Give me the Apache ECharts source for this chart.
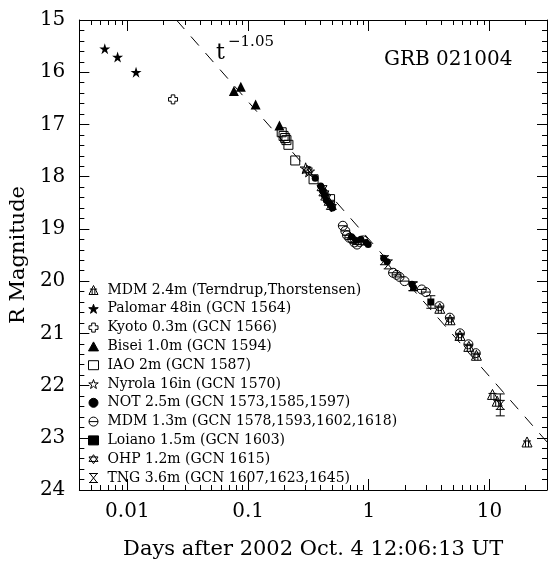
<!DOCTYPE html>
<html lang="en">
<head>
  <meta charset="UTF-8">
  <title>GRB 021004</title>
  <style>
    html, body { margin: 0; padding: 0; background: #fff; }
    #main { width: 550px; height: 565px; }
  </style>
</head>
<body>
  <div id="main"></div>
  <script src="https://cdn.jsdelivr.net/npm/echarts@6/dist/echarts.min.js"></script>
  <script>
    // [days after burst, R magnitude]
    var mdm24 = [[3.88, 20.52], [4.72, 20.74], [5.7, 21.04], [6.75, 21.25], [7.8, 21.42], [10.6, 22.17], [11.6, 22.3], [20.5, 23.08]];
    var palomar = [[0.0065, 15.55], [0.0083, 15.71], [0.0118, 16.0]];
    var kyoto = [[0.0239, 16.52]];
    var bisei = [[0.0763, 16.36], [0.0871, 16.28], [0.1156, 16.62], [0.182, 17.02]];
    var iao = [[0.19, 17.15], [0.197, 17.22], [0.203, 17.26], [0.208, 17.3], [0.216, 17.39], [0.246, 17.69], [0.349, 18.05], [0.478, 18.43]];
    var nyrola = [[0.30, 17.84], [0.32, 17.9]];
    var notData = [[0.36, 18.03], [0.40, 18.18], [0.415, 18.27], [0.43, 18.36], [0.445, 18.45], [0.48, 18.52], [0.5, 18.6],
      [0.72, 19.15], [0.78, 19.22], [0.86, 19.2], [0.95, 19.26], [0.99, 19.3], [1.33, 19.56], [1.42, 19.63], [2.28, 20.06], [2.35, 20.12]];
    var mdm13 = [[0.61, 18.94], [0.64, 19.04], [0.66, 19.12], [0.69, 19.17], [0.73, 19.2], [0.76, 19.26], [0.8, 19.3], [0.84, 19.25], [0.9, 19.22],
      [1.59, 19.84], [1.7, 19.88], [1.8, 19.92], [1.98, 20.0], [2.75, 20.16], [2.97, 20.21], [3.85, 20.48], [4.7, 20.7], [5.7, 21.0], [6.7, 21.21], [7.7, 21.38]];
    var loiano = [[3.27, 20.40]];
    var ohp = [[0.31, 17.88], [0.41, 18.22], [0.425, 18.32], [0.44, 18.4], [0.47, 18.5], [0.49, 18.58]];
    var tng = [[1.35, 19.6], [1.45, 19.68], [2.33, 20.1], [12.3, 22.37]];
    // [days, mag, error]
    var errBars = [[3.27, 20.40, 0.12], [2.33, 20.1, 0.08], [12.3, 22.37, 0.21]];
    // power-law t^-1.05 guide, end points
    var fitLine = [[0.0255, 15.0], [30, 23.08]];

    var xMinDays = 0.004, xMaxDays = 30;
    var majorDays = [0.01, 0.1, 1, 10];
    var minorDays = [0.005, 0.006, 0.007, 0.008, 0.009, 0.02, 0.03, 0.04, 0.05, 0.06, 0.07, 0.08, 0.09,
      0.2, 0.3, 0.4, 0.5, 0.6, 0.7, 0.8, 0.9, 2, 3, 4, 5, 6, 7, 8, 9, 20];

    var FONT = 'DejaVu Serif';
    var lg = function (v) { return Math.log10(v); };
    var toXY = function (arr) { return arr.map(function (p) { return [lg(p[0]), p[1]]; }); };

    var STAR = 'path://M5,0 L6.2,3.6 L10,3.6 L6.9,5.8 L8.1,9.5 L5,7.2 L1.9,9.5 L3.1,5.8 L0,3.6 L3.8,3.6 Z';
    var CROSS = 'path://M3,0 L7,0 L7,3 L10,3 L10,7 L7,7 L7,10 L3,10 L3,7 L0,7 L0,3 L3,3 Z';
    var BARCIRC = 'path://M0,5 A5,5 0 1,1 10,5 A5,5 0 1,1 0,5 Z M0,5 L10,5';
    var HEXSTAR = 'path://M5,0 L10,7.5 L0,7.5 Z M5,10 L0,2.5 L10,2.5 Z';
    var HOURGLASS = 'path://M0,0 L10,0 M0,10 L10,10 M1,0 L9,10 M9,0 L1,10';
    var TRIBAR = 'path://M5,0 L10,10 L0,10 Z M1,4 L9,4 M3.5,4 L3.5,10 M6.5,4 L6.5,10';

    function pts(name, data, symbol, size, filled) {
      return {
        name: name,
        type: 'scatter',
        data: toXY(data),
        symbol: symbol,
        symbolSize: size,
        silent: true,
        z: 3,
        itemStyle: {
          color: filled ? '#000' : 'rgba(0,0,0,0)',
          borderColor: '#000',
          borderWidth: filled ? 0 : 1,
          opacity: 1
        }
      };
    }

    function renderErr(params, api) {
      var x = api.value(0), y = api.value(1), e = api.value(2);
      var a = api.coord([x, y - e]);
      var b = api.coord([x, y + e]);
      var w = 4.5;
      var st = { stroke: '#000', lineWidth: 1 };
      return {
        type: 'group',
        children: [
          { type: 'line', shape: { x1: a[0], y1: a[1], x2: b[0], y2: b[1] }, style: st },
          { type: 'line', shape: { x1: a[0] - w, y1: a[1], x2: a[0] + w, y2: a[1] }, style: st },
          { type: 'line', shape: { x1: b[0] - w, y1: b[1], x2: b[0] + w, y2: b[1] }, style: st }
        ]
      };
    }

    var names = ['MDM 2.4m (Terndrup,Thorstensen)', 'Palomar 48in (GCN 1564)', 'Kyoto 0.3m (GCN 1566)', 'Bisei 1.0m (GCN 1594)',
      'IAO 2m (GCN 1587)', 'Nyrola 16in (GCN 1570)', 'NOT 2.5m (GCN 1573,1585,1597)', 'MDM 1.3m (GCN 1578,1593,1602,1618)',
      'Loiano 1.5m (GCN 1603)', 'OHP 1.2m (GCN 1615)', 'TNG 3.6m (GCN 1607,1623,1645)'];

    var xBase = function (pos, ticks, len, line) {
      return {
        type: 'value', position: pos,
        min: lg(xMinDays), max: lg(xMaxDays),
        splitLine: { show: false },
        axisLine: { show: line, onZero: false, lineStyle: { color: '#000', width: 1 } },
        axisTick: { show: true, inside: true, length: len, customValues: ticks.map(lg), lineStyle: { color: '#000', width: 1 } },
        axisLabel: { show: false }
      };
    };
    var yBase = function (pos, labels) {
      return {
        type: 'value', position: pos, inverse: true,
        min: 15, max: 24, interval: 1,
        splitLine: { show: false },
        axisLine: { show: true, onZero: false, lineStyle: { color: '#000', width: 1 } },
        axisTick: { show: true, inside: true, length: 10, lineStyle: { color: '#000', width: 1 } },
        minorTick: { show: true, splitNumber: 5, length: 5, lineStyle: { color: '#000', width: 1 } },
        axisLabel: { show: labels, color: '#000', fontFamily: FONT, fontSize: 20, margin: 14 }
      };
    };

    var x0 = xBase('bottom', majorDays, 11, true);
    x0.axisLabel = {
      show: true, color: '#000', fontFamily: FONT, fontSize: 20, margin: 12,
      customValues: majorDays.map(lg),
      formatter: function (v) { return String(+Math.pow(10, v).toPrecision(3)); }
    };
    x0.name = 'Days after 2002 Oct. 4 12:06:13 UT';
    x0.nameLocation = 'middle';
    x0.nameGap = 49;
    x0.nameTextStyle = { color: '#000', fontFamily: FONT, fontSize: 21 };

    var y0 = yBase('left', true);
    y0.name = 'R Magnitude';
    y0.nameLocation = 'middle';
    y0.nameGap = 37;
    y0.nameTextStyle = { color: '#000', fontFamily: FONT, fontSize: 21 };

    var chart = echarts.init(document.getElementById('main'), null, { renderer: 'canvas' });
    var option = {
      animation: false,
      backgroundColor: '#fff',
      grid: { left: 76, right: 3, top: 20, bottom: 73 },
      xAxis: [
        x0,
        xBase('bottom', minorDays, 5, false),
        xBase('top', majorDays, 11, true),
        xBase('top', minorDays, 5, false)
      ],
      yAxis: [y0, yBase('right', false)],
      legend: {
        data: names,
        orient: 'vertical',
        left: 83, top: 278,
        itemWidth: 10, itemHeight: 9, itemGap: 4.8,
        selectedMode: false,
        itemStyle: { borderWidth: 1 },
        textStyle: { color: '#000', fontFamily: FONT, fontSize: 14, lineHeight: 14, padding: [0, 0, 0, 4] }
      },
      graphic: [
        { type: 'text', left: 384, top: 50, style: { text: 'GRB 021004', fill: '#000', font: '20px "DejaVu Serif"' } },
        { type: 'text', left: 216, top: 42, style: { text: 't', fill: '#000', font: '22px "DejaVu Serif"' } },
        { type: 'text', left: 228, top: 35, style: { text: '\u22121.05', fill: '#000', font: '15px "DejaVu Serif"' } }
      ],
      series: [
        {
          type: 'line', data: toXY(fitLine), symbol: 'none', silent: true, z: 2,
          lineStyle: { color: '#000', width: 1, type: [12, 10] }
        },
        pts(names[0], mdm24, TRIBAR, 10, false),
        pts(names[1], palomar, STAR, 11, true),
        pts(names[2], kyoto, CROSS, 9, false),
        pts(names[3], bisei, 'triangle', 10, true),
        pts(names[4], iao, 'rect', 9, false),
        pts(names[5], nyrola, STAR, 11, false),
        pts(names[6], notData, 'circle', 7, true),
        pts(names[7], mdm13, BARCIRC, 9, false),
        pts(names[8], loiano, 'rect', 7, true),
        pts(names[9], ohp, HEXSTAR, 10, false),
        pts(names[10], tng, HOURGLASS, 9, false),
        {
          type: 'custom', silent: true, z: 4,
          data: errBars.map(function (p) { return [lg(p[0]), p[1], p[2]]; }),
          renderItem: renderErr
        }
      ]
    };
    chart.setOption(option);
  </script>
</body>
</html>
